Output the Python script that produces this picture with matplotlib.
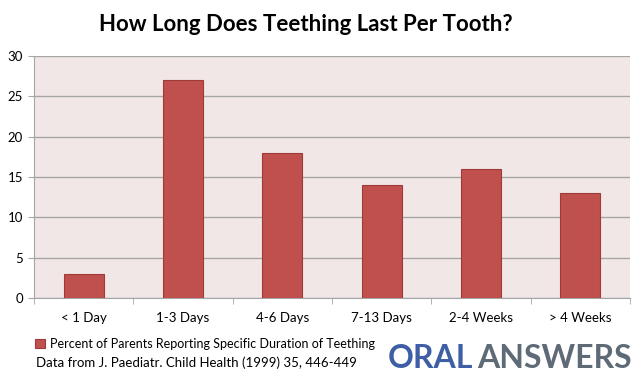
import matplotlib.pyplot as plt
import numpy as np

plt.rcParams['font.family'] = ['Lato', 'DejaVu Sans']

categories = ["< 1 Day", "1-3 Days", "4-6 Days", "7-13 Days", "2-4 Weeks", "> 4 Weeks"]
percent    = [3, 27, 18, 14, 16, 13]
y_ticks    = [0, 5, 10, 15, 20, 25, 30]

bar_color  = "#C0504D"
edge_color = "#9E3B38"
grid_color = "#A6A6A6"

fig = plt.figure(figsize=(6.44, 3.84), dpi=100)
ax = fig.add_axes([34 / 644, 1 - 298 / 384, 596 / 644, 242 / 384])
ax.set_facecolor("#F2E7E7")

x = np.arange(len(categories))
ax.bar(x, percent, width=0.4, color=bar_color, edgecolor=edge_color,
       linewidth=0.8, zorder=3,
       label="Percent of Parents Reporting Specific Duration of Teething")

ax.set_xlim(-0.5, len(categories) - 0.5)
ax.set_ylim(0, 30)
ax.set_yticks(y_ticks)
ax.yaxis.grid(True, color=grid_color, linewidth=1.0, zorder=0)
ax.set_axisbelow(True)

ax.set_xticks(x)
ax.set_xticklabels(categories, fontsize=9.5)
ax.set_xticks(np.arange(-0.5, len(categories)), minor=True)
ax.tick_params(axis="x", which="major", length=0, pad=10)
ax.tick_params(axis="x", which="minor", length=4, color=grid_color, direction="out")
ax.tick_params(axis="y", length=4, color=grid_color, labelsize=9.5, pad=4)

for side in ["top", "right"]:
    ax.spines[side].set_visible(False)
ax.spines["left"].set_color(grid_color)
ax.spines["bottom"].set_color(grid_color)

fig.text(306 / 644, 0.935, "How Long Does Teething Last Per Tooth?",
         ha="center", va="center", fontsize=16, fontweight="bold")

leg = fig.legend(loc="center left", bbox_to_anchor=(30 / 644, 1 - 344 / 384),
                 frameon=False, fontsize=9, handlelength=0.8, handleheight=0.8,
                 handletextpad=0.4, borderaxespad=0)

fig.text(36 / 644, 1 - 363 / 384, "Data from J. Paediatr. Child Health (1999) 35, 446-449",
         ha="left", va="center", fontsize=9.5)

fig.text(388 / 644, 1 - 358 / 384, "ORAL", ha="left", va="center",
         fontsize=23, fontweight="bold", color="#3E5FA6")
fig.text(477 / 644, 1 - 358 / 384, "ANSWERS", ha="left", va="center",
         fontsize=23, fontweight="bold", color="#5E6A75")

fig.savefig("out.png", dpi=100)
